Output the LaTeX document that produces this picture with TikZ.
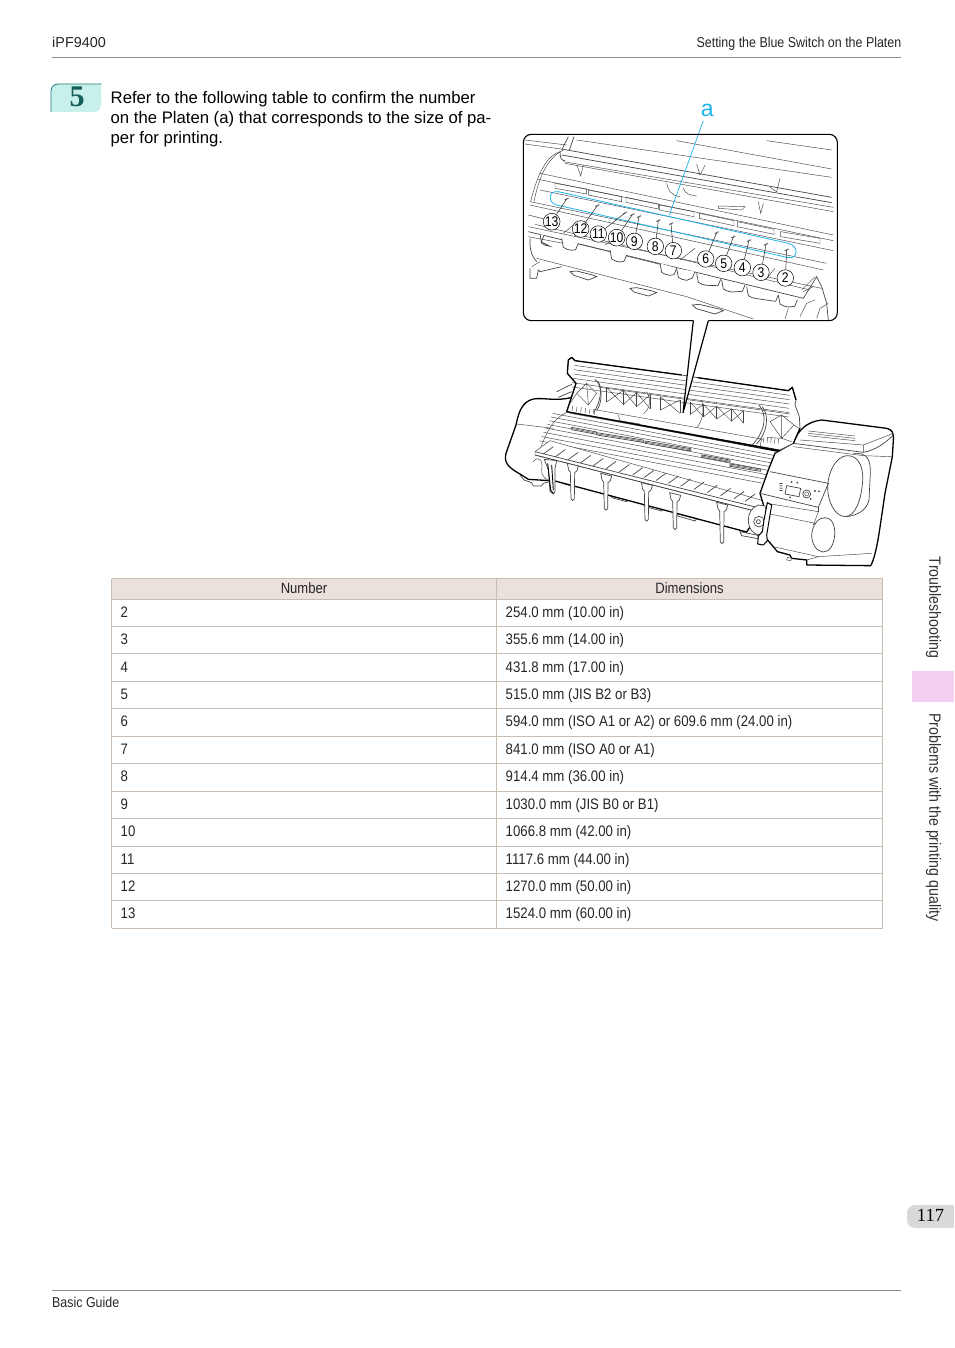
\documentclass[tikz,border=0pt]{standalone}
\usepackage{fontspec}
\setmainfont{Liberation Sans}
\newfontfamily\narrowf[FakeStretch=0.87]{Liberation Sans}
\newfontfamily\seriff{Liberation Serif}
\definecolor{rulegray}{HTML}{8C8C8C}
\definecolor{tabline}{HTML}{C9BDB2}
\definecolor{tabhead}{HTML}{EBE1DC}
\definecolor{badgefill}{HTML}{C8F0EB}
\definecolor{badgeline}{HTML}{1E7F78}
\definecolor{badgetext}{HTML}{155E5A}
\definecolor{pinkblock}{HTML}{F5CFF2}
\definecolor{tabgray}{HTML}{D9D9D9}
\definecolor{cyanline}{HTML}{1DB4E8}
\definecolor{inkline}{HTML}{444444}
\tikzset{
  x=1pt,y=-1pt,
  hd/.style={font=\narrowf\fontsize{14.3}{16}\selectfont,inner sep=0pt,text=black!85},
  body/.style={font=\fontsize{16.7}{20}\selectfont,inner sep=0pt,anchor=base west},
  cell/.style={font=\narrowf\fontsize{15.2}{16}\selectfont,inner sep=0pt,anchor=base west,text=black!85},
  headcell/.style={font=\narrowf\fontsize{15}{16}\selectfont,inner sep=0pt,anchor=base,text=black!85},
  side/.style={font=\narrowf\fontsize{16.3}{16}\selectfont,inner sep=0pt,rotate=-90,text=black!80},
  thinl/.style={draw=inkline,line width=0.45pt},
  midl/.style={draw=inkline,line width=0.7pt},
  thickl/.style={draw=black,line width=1.3pt,line join=round},
  callout/.style={circle,draw=black,line width=0.5pt,fill=white,minimum size=16.5pt,inner sep=0pt,font=\narrowf\fontsize{14}{14}\selectfont},
  zoomA/.style={shift={(510,90)},scale=0.33333},
  zoomB/.style={shift={(500,320)},scale=0.33333},
  zoomC/.style={shift={(690,420)},scale=0.33333},
  zoomD/.style={shift={(560,350)},scale=0.33333},
  zoomE/.style={shift={(520,220)},scale=0.33333},
  zoomF/.style={shift={(500,420)},scale=0.33333},
}
\begin{document}
\begin{tikzpicture}
\useasboundingbox (0,0) rectangle (954,1348);
\fill[white] (0,0) rectangle (954,1348);
% header and footer
\draw[rulegray,line width=0.8pt] (52,57.5) -- (901,57.5);
\draw[rulegray,line width=0.8pt] (52,1290) -- (901,1290);
\node[hd,anchor=base west,font=\fontsize{14.4}{16}\selectfont] (model) at (52,47.5) {iPF9400};
\node[hd,anchor=base east] (title) at (901.5,48) {Setting the Blue Switch on the Platen};
\node[hd,anchor=base west] (guide) at (52,1307) {Basic Guide};
% side tab
\fill[pinkblock] (912,671) rectangle (954,702);
\node[side] (sideA) at (933.5,607.5) {Troubleshooting};
\node[side] (sideB) at (933.5,817.5) {Problems with the printing quality};
\fill[tabgray,rounded corners=8pt] (907,1205) -- (960,1205) -- (960,1228) -- (907,1228) -- cycle;
\fill[white] (954,1200) rectangle (962,1232);
\node[inner sep=0pt,font=\seriff\fontsize{18.5}{20}\selectfont] (pagenum) at (930.5,1215.5) {117};
% step badge
\fill[badgefill,rounded corners=7pt] (51,112) -- (51,84) -- (101,84) -- (101,112) -- cycle;
\fill[badgefill] (51,105) rectangle (70,112);
\fill[badgefill] (85,84) rectangle (101,95);
\draw[badgeline,line width=0.8pt,rounded corners=7pt] (51,112) -- (51,84) -- (101.5,84);
\node[inner sep=0pt,font=\seriff\bfseries\fontsize{30}{30}\selectfont,text=badgetext] (stepnum) at (77,97) {5};
% intro text
\node[body] (l1) at (110.5,104) {Refer to the following table to confirm the number};
\node[body] (l2) at (110.5,124) {on the Platen (a) that corresponds to the size of pa-};
\node[body] (l3) at (110.5,144) {per for printing.};
% table
\fill[tabhead] (111.5,578.5) rectangle (882.5,599);
\foreach \yy in {578.5,599,626.5,653.7,681.3,708.7,736.3,763.7,791,818.5,846,873.4,900.8,928.3}
  \draw[tabline,line width=0.8pt] (111.5,\yy) -- (882.5,\yy);
\foreach \xx in {111.5,496.5,882.5}
  \draw[tabline,line width=0.8pt] (\xx,578.5) -- (\xx,928.3);
\node[headcell] (hnum) at (304,593) {Number};
\node[headcell] (hdim) at (689.5,593) {Dimensions};
\foreach \n/\yy/\dd in {2/617/254.0 mm (10.00 in),3/644/355.6 mm (14.00 in),4/672/431.8 mm (17.00 in),5/699/515.0 mm (JIS B2 or B3),6/726/594.0 mm (ISO A1 or A2) or 609.6 mm (24.00 in),7/754/841.0 mm (ISO A0 or A1),8/781/914.4 mm (36.00 in),9/809/1030.0 mm (JIS B0 or B1),10/836/1066.8 mm (42.00 in),11/864/1117.6 mm (44.00 in),12/891/1270.0 mm (50.00 in),13/918/1524.0 mm (60.00 in)}{
  \node[cell] (rn\n) at (120.5,\yy) {\n};
  \node[cell] (rd\n) at (505.5,\yy) {\dd};
}
% ===== printer =====
% feet behind the front
\begin{scope}[zoomF]
 \foreach \ax/\ay/\bx/\by in {180/182/222/192,330/226/385/238,428/252/490/266,525/280/590/296}{
   \path[midl,fill=white] (\ax,\ay) -- (\bx,\by) -- ({\bx-5},{\by+7}) -- ({\ax+8},{\ay+8}) -- cycle;
 }
 \path[midl,fill=white] (60,165) -- (72,180) -- (95,188) -- (100,198) -- (125,198) -- (130,190) -- (160,182);
\end{scope}
\begin{scope}[zoomC]
 \path[midl,fill=white] (150,335) -- (200,345) -- (215,358) -- (155,347) -- cycle;
\end{scope}
\begin{scope}[zoomB]
 % left body
 \path[thickl,fill=white] (215,232) .. controls (170,245) and (130,232) .. (100,237)
   .. controls (65,245) and (55,280) .. (48,315) -- (18,400) .. controls (12,425) and (20,440) .. (60,462)
   -- (85,478) -- (165,483) -- (740,636) -- (790,560) -- (840,395) -- (205,275) -- cycle;
 \draw[thinl] (50,312) -- (160,325);
 \draw[thinl] (205,275) .. controls (165,290) and (140,330) .. (118,395);
 \draw[midl] (170,215) -- (215,193) (175,232) -- (215,215);
 % surface lines
 \foreach \d in {14,26,38,50,62,76,90,104} {
   \draw[thinl] ({165-.45*\d},{275+.19*(165-.45*\d-205)+\d}) -- ({838-.5*\d},{275+.19*(838-.5*\d-205)+\d});
 }
 \foreach \ax/\ay/\bx/\by in {215/322/290/336,290/338/430/360,435/363/572/386,605/405/690/420,690/432/782/447}{
   \path[midl,fill=white] (\ax,\ay) -- (\bx,\by) -- (\bx,{\by+7}) -- (\ax,{\ay+7}) -- cycle;
   \draw[thinl] (\ax,{\ay+3.5}) -- (\bx,{\by+3.5});
 }
\end{scope}
% tray and legs
\begin{scope}[zoomF]
 \path[thinl,fill=white] (150,62) -- (105,95) -- (105,105) -- (780,277) -- (800,245) -- cycle;
 \draw[midl] (105,95) -- (770,262);
 \draw[midl] (105,105) -- (760,272);
 \foreach \sx in {160,196,234,272,310,348,388,428,462,498,535,572,612,652,692,732,765}{
   \draw[midl] (\sx,{80+.235*(\sx-160)}) -- ({\sx-30},{102+.235*(\sx-160)});
 }
 \draw[thinl] (100,125) .. controls (115,105) and (130,120) .. (125,150) .. controls (122,165) and (135,175) .. (150,185);
 \foreach \lx/\lt/\lb in {218/130/242,318/160/271,440/188/304,525/218/329,666/247/371}{
   \path[midl,fill=white] ({\lx-16},\lt) -- ({\lx+17},{\lt+8}) -- ({\lx+13},{\lt+22}) -- ({\lx+6},{\lt+28}) -- ({\lx+5},{\lb-5})
     .. controls ({\lx+5},{\lb+1}) and ({\lx-5},{\lb+1}) .. ({\lx-5},{\lb-5}) -- ({\lx-7},{\lt+26}) -- ({\lx-12},{\lt+20}) -- cycle;
 }
 \path[midl,fill=white] (133,118) -- (170,122) -- (165,145) -- (165,215) -- (160,222) -- (150,215) -- (145,150) -- cycle;
 \draw[thickl,line width=0.9pt] (143,130) -- (152,210) -- (160,220) (155,135) -- (160,210);
\end{scope}
% right unit
\begin{scope}[zoomC]
 \path[thickl,fill=white] (310,68) .. controls (325,30) and (350,5) .. (395,0) -- (590,25)
   .. controls (605,28) and (612,38) .. (610,60) -- (607,110) -- (585,220) -- (568,335)
   .. controls (560,385) and (552,420) .. (542,437) -- (350,435) -- (350,420) -- (305,415) -- (300,405)
   -- (262,395) -- (250,380) -- (228,355) -- (222,310) -- (225,270) -- (210,220) -- (235,150) -- (255,100) -- cycle;
 \draw[midl] (255,100) -- (310,70) -- (520,97) .. controls (560,90) and (590,65) .. (610,45);
 \draw[thinl] (310,80) -- (520,107) -- (605,110);
 \draw[thinl] (520,75) -- (520,97) (330,60) -- (520,75) -- (610,40);
 \foreach \d in {0,7,14} \draw[thinl] (355,{33+\d}) -- (495,{48+\d});
 % large and small roll covers
 \draw[midl] (490,100) .. controls (530,98) and (542,115) .. (541,160) -- (537,240) .. controls (530,270) and (505,285) .. (470,290);
 \draw[midl] (470,107) .. controls (505,105) and (520,140) .. (518,180)
   .. controls (515,240) and (495,290) .. (465,290) .. controls (435,288) and (412,245) .. (413,200)
   .. controls (415,150) and (440,110) .. (470,107) -- cycle;
 \draw[midl] (405,293) .. controls (425,293) and (436,315) .. (434,345)
   .. controls (432,375) and (418,397) .. (398,396) .. controls (378,393) and (365,370) .. (365,345)
   .. controls (367,315) and (385,292) .. (405,293) -- cycle;
 \draw[midl] (240,155) -- (415,190) -- (385,262) -- (210,220);
 \draw[thinl] (230,250) -- (385,275) -- (370,315) (240,282) -- (375,310);
 \draw[thinl] (385,262) -- (385,275);
 \draw[thinl] (250,380) -- (385,410) -- (545,400);
 \draw[thinl] (350,420) -- (385,410);
 \path[thinl,fill=white] (290,420) -- (292,412) -- (305,415) -- (302,422) -- cycle;
 % control panel
 \draw[midl] (290,197) -- (332,205) -- (327,230) -- (285,222) -- cycle;
 \draw[midl] (350,222) circle[radius=12];
 \draw[thinl] (350,222) circle[radius=6];
 \foreach \px/\py in {375/213,387/214,362/237,305/186,322/188,300/232}
   \draw[thinl] (\px,\py) circle[radius=2.2];
 \foreach \py in {190,197,204,211}
   \draw[midl] (268,\py) -- (278,{\py+1});
 % roll holder
 \path[midl,fill=white] (205,255) .. controls (185,262) and (175,280) .. (175,300) .. controls (175,325) and (190,345) .. (210,345) -- (235,300) -- (225,258) -- cycle;
 \path[midl,fill=white] (207,305) circle[radius=16];
 \draw[midl] (205,305) circle[radius=6];
 \path[thickl,line width=1pt,fill=white] (232,248) -- (245,255) -- (230,345) -- (232,362) -- (220,375) -- (203,372) -- (205,348) -- (217,335) -- (222,300) -- cycle;
\end{scope}
% lid
\begin{scope}[zoomD]
 \path[midl,fill=white] (25,30) -- (35,22) -- (45,32) -- (365,75) -- (413,83) -- (685,122) -- (697,112) -- (708,150) -- (705,165) -- (718,200) -- (720,235) -- (700,280) -- (660,300) -- (20,185) -- (48,100) -- (22,70) -- cycle;
 \foreach \d in {14,27,40,53,66,79}
   \draw[thinl] ({45-.12*\d},{32+\d}) -- ({690-.05*\d},{122+\d});
 \draw[thinl] (120,112) -- (690,192);
 \draw[thinl] (100,178) -- (610,268);
 \draw[thinl] (30,190) -- (600,293);
 \draw[thinl] (100,180) -- (105,195) (605,265) -- (600,292);
 \foreach \ra/\rb in {140/190,190/230,230/270,300/360,390/430,430/470,470/515,515/550}{
   \draw[thinl] (\ra,{110+.17*(\ra-125)}) -- (\rb,{155+.155*(\rb-135)});
   \draw[thinl] (\rb,{110+.17*(\rb-125)}) -- (\ra,{155+.155*(\ra-135)});
   \draw[thinl] (\rb,{110+.17*(\rb-125)}) -- (\rb,{155+.155*(\rb-135)});
 }
 \draw[thinl] (140,112) -- (140,156) (300,140) -- (300,180) (390,155) -- (390,193);
 \draw[thinl] (260,125) .. controls (275,150) and (270,175) .. (250,192);
 \draw[thinl] (425,150) .. controls (432,180) and (430,205) .. (412,232);
 \draw[thinl] (175,195) -- (180,212) -- (240,222);
 % end pads
 \draw[thinl] (50,130) -- (80,100) -- (110,130) -- (85,165) -- cycle (80,100) -- (85,165) (50,130) -- (30,160) (50,130) -- (85,165);
 \draw[thinl] (630,215) -- (665,195) -- (702,225) -- (665,265) -- cycle (665,195) -- (665,265) (702,225) -- (716,235) (620,262) -- (665,265) -- (695,275);
 \draw[midl] (105,88) .. controls (125,105) and (130,140) .. (100,190);
 \draw[midl] (115,95) .. controls (128,125) and (125,160) .. (110,182);
 \draw[midl] (597,165) .. controls (620,190) and (620,240) .. (575,287);
 \draw[midl] (607,170) .. controls (630,200) and (620,250) .. (590,282);
 \foreach \k in {0,1,2,3,4} {
   \draw[thinl] ({38+\k*13},{168+\k*2}) -- ({36+\k*13},{183+\k*2});
   \draw[thinl] ({612+\k*11},{262+\k*1}) -- ({610+\k*11},{277+\k*1});
 }
 \draw[thickl] (35,22) -- (45,32) -- (365,75);
 \draw[thickl] (413,83) -- (685,122);
 \draw[thickl] (20,185) -- (660,302);
 \draw[thickl] (685,122) -- (697,112) -- (708,150) (700,280) -- (720,235);
 \draw[thickl] (35,22) -- (25,30) -- (22,70) -- (48,100) -- (20,185);
\end{scope}
% ===== detail view =====
\begin{scope}[zoomA]
 \begin{scope}
 \clip (42,135) rectangle (980,690);
 \foreach \ax/\ay/\bx/\by in {45/150/170/165,200/150/965/262,500/152/965/237,770/152/965/180,
    45/162/160/178,165/220/970/365,160/215/970/352,90/250/970/435,85/268/970/452,90/300/970/482,
    60/335/950/520,60/345/940/540,55/375/135/395,75/403/900/600}{
   \draw[thinl] (\ax,\ay) -- (\bx,\by);
 }
 \draw[midl] (160,178) -- (965,322);
 \draw[midl] (155,195) -- (965,338);
 \draw[midl] (150,185) .. controls (150,205) and (155,212) .. (165,212);
 \draw[midl] (175,140) -- (155,180) (192,140) -- (178,180);
 \draw[thinl] (150,185) .. controls (115,195) and (85,240) .. (62,335);
 \draw[thinl] (160,180) .. controls (120,200) and (90,245) .. (72,335);
 \draw[thinl] (470,280) .. controls (475,300) and (480,315) .. (510,320) (520,295) .. controls (525,312) and (540,315) .. (560,318);
 \draw[thinl] (200,225) -- (212,258) -- (220,225) (560,222) -- (570,255) -- (585,225) (780,292) -- (800,305) -- (810,265);
 \draw[thinl] (745,335) -- (752,370) -- (760,340);
 \draw[thinl] (625,348) -- (705,350) -- (695,360) -- (625,355) -- cycle;
 \foreach \ax/\ay/\bx/\by in {135/280/230/297,235/300/335/320,348/322/445/342,448/345/552/365,568/370/672/392,682/395/792/418,812/425/930/445}{
   \draw[thinl] (\ax,\ay) -- (\bx,\by) -- (\bx,{\by+15}) -- (\ax,{\ay+15}) -- cycle;
 }
 \end{scope}
\end{scope}
\begin{scope}[zoomE]
 \begin{scope}
 \clip (12,0) rectangle (950,300);
 \draw[midl] (25,35) -- (850,235);
 \draw[thinl] (25,20) -- (905,205) (25,50) -- (130,70);
 % tabs under the front edge
 \foreach \ax/\ay/\bx/\by in {60/43/72/46,125/55/175/70,270/90/320/105,420/130/470/145,470/145/525/155,530/160/602/178,605/180/675/195,680/200/775/225,775/225/832/240}{
   \path[midl,fill=white] (\ax,\ay) -- ({\ax+5},{\ay+27}) .. controls ({\ax+12},{\ay+32}) and ({\ax+20},{\ay+35}) .. ({\ax+30},{\ay+36})
     -- ({\bx-8},{\by+19}) -- (\bx,\by);
 }
 \draw[thinl] (175,72) -- (270,95) (320,108) -- (420,133);
 \draw[midl] (30,55) .. controls (28,85) and (35,110) .. (50,125);
 \draw[thinl] (50,115) -- (500,230) -- (700,297);
 \foreach \ax/\ay/\bx/\by in {150/155/230/170,330/205/410/218,517/255/610/272}{
   \path[midl,fill=white] (\ax,\ay) -- ({\ax+12},{\ay+11}) -- ({\bx-25},{\by+10}) -- (\bx,\by) -- ({\bx-12},{\by-5}) -- ({\ax+20},{\ay-2}) -- cycle;
 }
 \draw[midl] (30,145) -- (30,175) -- (50,175) -- (55,150) -- (60,155) -- (125,140);
 \draw[thinl] (35,140) -- (60,125);
 \draw[midl] (850,235) -- (890,170) -- (905,200) -- (920,250) -- (925,300);
 \draw[thinl] (890,295) -- (900,265) -- (925,250) (880,200) -- (850,215) (805,265) -- (795,297) (840,290) -- (860,250) -- (885,240);
 \draw[thinl] (480,120) -- (525,85) (130,40) -- (160,15) (255,75) -- (300,40) (740,175) -- (765,145) (845,210) -- (885,170);
 \end{scope}
\end{scope}
\begin{scope}[zoomA]
 % blue line around the switches
 \draw[cyanline,line width=0.8pt] (145,305) -- (835,460) .. controls (866,466) and (866,507) .. (835,503) -- (140,345) .. controls (112,338) and (115,300) .. (145,305) -- cycle;
 \foreach \n/\cx/\cy/\sx/\sy in {13/125/395/170/327,12/212/417/262/347,11/265/432/345/369,10/320/443/367/374,9/373/454/387/380,8/436/469/445/392,7/490/482/483/401,6/587/507/620/428,5/641/520/670/441,4/697/533/717/452,3/753/547/768/463,2/826/564/830/480}{
   \coordinate (sw\n) at (\sx,\sy);
   \draw[black!55,line width=1.1pt] ({\sx-6},{\sy+3}) -- ({\sx+6},{\sy-3});
   \node[callout] (c\n) at (\cx,\cy) {\n};
   \draw[black!85,line width=0.5pt] (c\n) -- (sw\n);
 }
 \coordinate (platen) at (478,375);
 \node[inner sep=0pt,text=cyanline,font=\fontsize{23}{24}\selectfont] (alabel) at (592,62) {a};
 \coordinate (leadtop) at (580,92);
 \draw[cyanline,line width=0.7pt] (leadtop) -- (platen);
 % frame and pointer
 \coordinate (tailL) at (550,692);
 \coordinate (tailR) at (595,692);
 \coordinate (tailTip) at (519,969);
 \path[fill=white] (tailL) -- (tailTip) -- (tailR) -- cycle;
 \draw[black,line width=1.1pt,rounded corners=8pt] (tailL) -- (40,692) -- (40,133) -- (982,133) -- (982,692) -- (tailR);
 \draw[black,line width=1.2pt] (tailL) -- (tailTip) -- (tailR);
\end{scope}
\end{tikzpicture}
\end{document}
